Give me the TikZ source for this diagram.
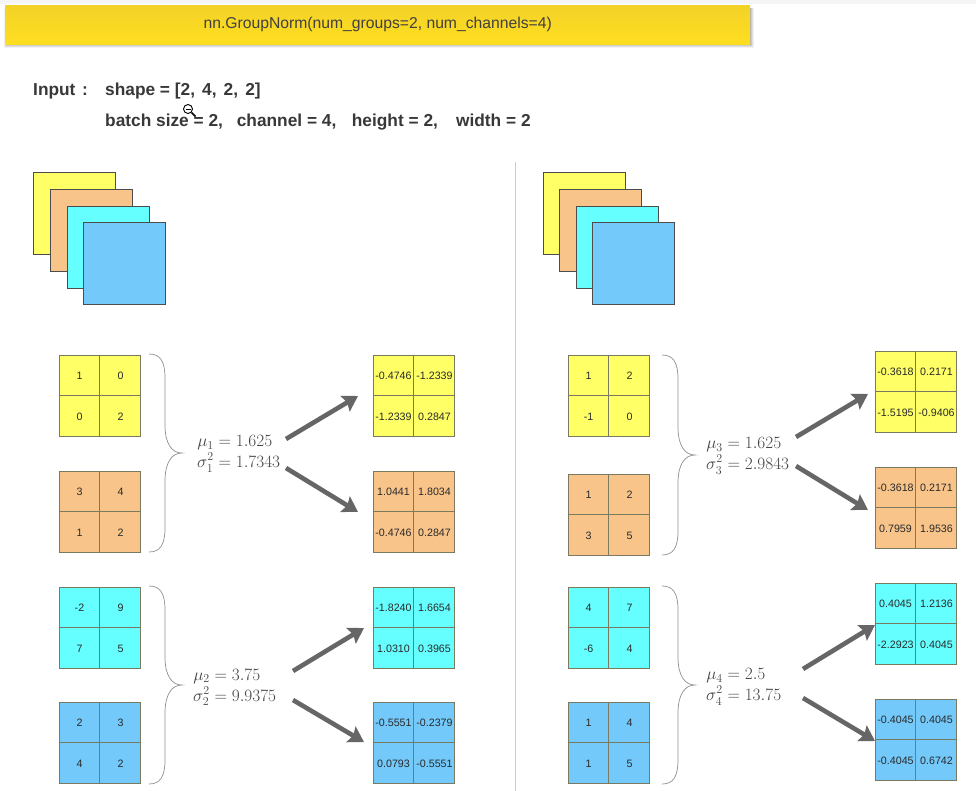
\documentclass[tikz,border=0pt]{standalone}
\usepackage{amsmath}
\usepackage{fontspec}
\setsansfont{Liberation Sans}
\usetikzlibrary{arrows.meta,calc}
\definecolor{cY}{HTML}{FFFF66}
\definecolor{cO}{HTML}{F8C48A}
\definecolor{cC}{HTML}{66FFFF}
\definecolor{cB}{HTML}{73C9FA}
\definecolor{edgeC}{HTML}{7A7A60}
\definecolor{inkC}{HTML}{2A2A2A}
\definecolor{mathC}{HTML}{444444}
\definecolor{arrC}{HTML}{666666}
\definecolor{braceC}{HTML}{8F8F8F}
\definecolor{bannerT}{HTML}{F3D228}
\definecolor{bannerB}{HTML}{FFDE20}
\tikzset{
  x=1pt,y=-1pt,
  gridbox/.style={draw=edgeC,line width=0.7pt,minimum size=81.6pt,inner sep=0pt,outer sep=0pt,anchor=north west},
  cellnum/.style={font=\sffamily\fontsize{10.7}{13}\selectfont,text=inkC,inner sep=0pt},
  stackbox/.style={draw=black!70,line width=0.7pt,minimum size=82pt,inner sep=0pt,anchor=north west},
  arr/.style={draw=arrC,line width=4.6pt,-{Stealth[length=15pt,width=18pt,inset=2.5pt]}},
  bracec/.style={draw=braceC,line width=0.7pt},
  formula/.style={font=\fontsize{17.28}{21}\selectfont,text=mathC,inner sep=0pt,anchor=west},
  headtxt/.style={font=\sffamily\bfseries\fontsize{17.3}{20}\selectfont,text=black!78,inner sep=0pt,anchor=base west},
}
% \gridcell{name}{x}{y}{colour}{a}{b}{c}{d}
\newcommand{\gridcell}[8]{%
  \node[gridbox,fill=#4] (#1) at (#2,#3) {};
  \draw[draw=edgeC,line width=0.7pt] (#1.north) -- (#1.south) (#1.west) -- (#1.east);
  \node[cellnum] (#1a) at ($(#1.north west)+(20.5,20.5)$) {#5};
  \node[cellnum] (#1b) at ($(#1.north west)+(61.5,20.5)$) {#6};
  \node[cellnum] (#1c) at ($(#1.north west)+(20.5,61.5)$) {#7};
  \node[cellnum] (#1d) at ($(#1.north west)+(61.5,61.5)$) {#8};
}
% \curlybrace{name}{x}{ytop}{ybottom}
\newcommand{\curlybrace}[4]{%
  \coordinate (#1t) at (#2,#3);
  \coordinate (#1b) at (#2,#4);
  \coordinate (#1m) at (#2+33,{(#3+#4)/2});
  \draw[bracec] (#1t) .. controls ($(#1t)+(11,0)$) and ($(#1t)+(16,7)$) .. ($(#1t)+(16,24)$)
    -- ($(#1m)+(-17,-28)$) .. controls ($(#1m)+(-17,-9)$) and ($(#1m)+(-10,0)$) .. (#1m)
    .. controls ($(#1m)+(-10,0)$) and ($(#1m)+(-17,9)$) .. ($(#1m)+(-17,28)$)
    -- ($(#1b)+(16,-24)$) .. controls ($(#1b)+(16,-7)$) and ($(#1b)+(11,0)$) .. (#1b);
}
\begin{document}
\begin{tikzpicture}
\useasboundingbox (0,0) rectangle (976,791);
\fill[white] (0,0) rectangle (976,791);
\fill[black!4] (0,0) rectangle (976,4);
% banner
\foreach \d/\o in {4/0.05,3/0.07,2/0.09,1/0.11}{
  \fill[black,opacity=\o] (8-\d,8) rectangle (750+\d,44+\d);
}
\node[draw=none,top color=bannerT,bottom color=bannerB,minimum width=745pt,minimum height=39pt,inner sep=0pt,anchor=north west,
  font=\sffamily\fontsize{15.7}{18}\selectfont,text=black!75] (banner) at (5,5) {nn.GroupNorm(num\_groups=2, num\_channels=4)};
% header text
\node[headtxt] (inlab) at (33,96) {Input};
\node[headtxt] (incolon) at (82,96) {:};
\node[headtxt] (shapelab) at (105,96) {shape = [2, \kern2.3pt4, \kern2.3pt2, \kern2.3pt2]};
\node[headtxt] (detail) at (105,127) {batch size = 2,\hspace{0.8em}channel = 4,\hspace{0.9em}height = 2,\hspace{1.05em}width = 2};
% zoom cursor
\node[draw=black,fill=white,circle,line width=0.9pt,minimum size=9pt,inner sep=0pt] (zoomc) at (188,109) {};
\draw[black,line width=0.9pt] (185.5,109) -- (190.5,109);
\draw[black,line width=1.6pt] (zoomc.south east) -- ++(4,4);
% divider
\coordinate (divt) at (515.5,162);
\coordinate (divb) at (515.5,791);
\draw[black!20,line width=0.8pt] (divt) -- (divb);
% stacks
\node[stackbox,fill=cY] (sa1) at (33,172) {};
\node[stackbox,fill=cO] (sa2) at (50,189) {};
\node[stackbox,fill=cC] (sa3) at (67,206) {};
\node[stackbox,fill=cB] (sa4) at (83,222) {};
\node[stackbox,fill=cY] (sb1) at (543,172) {};
\node[stackbox,fill=cO] (sb2) at (559,189) {};
\node[stackbox,fill=cC] (sb3) at (576,206) {};
\node[stackbox,fill=cB] (sb4) at (592,222) {};
% left input
\gridcell{ia}{59}{355}{cY}{1}{0}{0}{2}
\gridcell{ib}{59}{471}{cO}{3}{4}{1}{2}
\gridcell{ic}{59}{587}{cC}{-2}{9}{7}{5}
\gridcell{id}{59}{702}{cB}{2}{3}{4}{2}
% left output
\gridcell{oa}{373}{355}{cY}{-0.4746}{-1.2339}{-1.2339}{0.2847}
\gridcell{ob}{373}{471}{cO}{1.0441}{1.8034}{-0.4746}{0.2847}
\gridcell{oc}{373}{587}{cC}{-1.8240}{1.6654}{1.0310}{0.3965}
\gridcell{od}{373}{702}{cB}{-0.5551}{-0.2379}{0.0793}{-0.5551}
% right input
\gridcell{ie}{568}{355}{cY}{1}{2}{-1}{0}
\gridcell{if}{568}{474}{cO}{1}{2}{3}{5}
\gridcell{ig}{568}{587}{cC}{4}{7}{-6}{4}
\gridcell{ih}{568}{702}{cB}{1}{4}{1}{5}
% right output
\gridcell{oe}{875}{351}{cY}{-0.3618}{0.2171}{-1.5195}{-0.9406}
\gridcell{of}{875}{467}{cO}{-0.3618}{0.2171}{0.7959}{1.9536}
\gridcell{og}{875}{583}{cC}{0.4045}{1.2136}{-2.2923}{0.4045}
\gridcell{oh}{875}{699}{cB}{-0.4045}{0.4045}{-0.4045}{0.6742}
% braces
\curlybrace{bra}{149}{354}{552}
\curlybrace{brb}{149}{586}{784}
\curlybrace{brc}{662}{355}{555}
\curlybrace{brd}{662}{586}{784}
% formulas
\node[formula] (fa) at (197,453) {$\begin{aligned}\mu_1&=1.625\\[-4pt]\sigma_1^2&=1.7343\end{aligned}$};
\node[formula] (fb) at (193,686.5) {$\begin{aligned}\mu_2&=3.75\\[-4pt]\sigma_2^2&=9.9375\end{aligned}$};
\node[formula] (fc) at (706,455) {$\begin{aligned}\mu_3&=1.625\\[-4pt]\sigma_3^2&=2.9843\end{aligned}$};
\node[formula] (fd) at (706,686) {$\begin{aligned}\mu_4&=2.5\\[-4pt]\sigma_4^2&=13.75\end{aligned}$};
% arrows
\coordinate (a1s) at (286,439); \coordinate (a1e) at (358,396);
\coordinate (a2s) at (286,468); \coordinate (a2e) at (358,512);
\coordinate (a3s) at (293,671); \coordinate (a3e) at (364,628);
\coordinate (a4s) at (293,700); \coordinate (a4e) at (364,742);
\coordinate (a5s) at (796,437); \coordinate (a5e) at (868,394);
\coordinate (a6s) at (796,466); \coordinate (a6e) at (868,510);
\coordinate (a7s) at (803,669); \coordinate (a7e) at (875,625);
\coordinate (a8s) at (803,698); \coordinate (a8e) at (875,741);
\foreach \k in {1,...,8}{\draw[arr] (a\k s) -- (a\k e);}
\end{tikzpicture}
\end{document}
